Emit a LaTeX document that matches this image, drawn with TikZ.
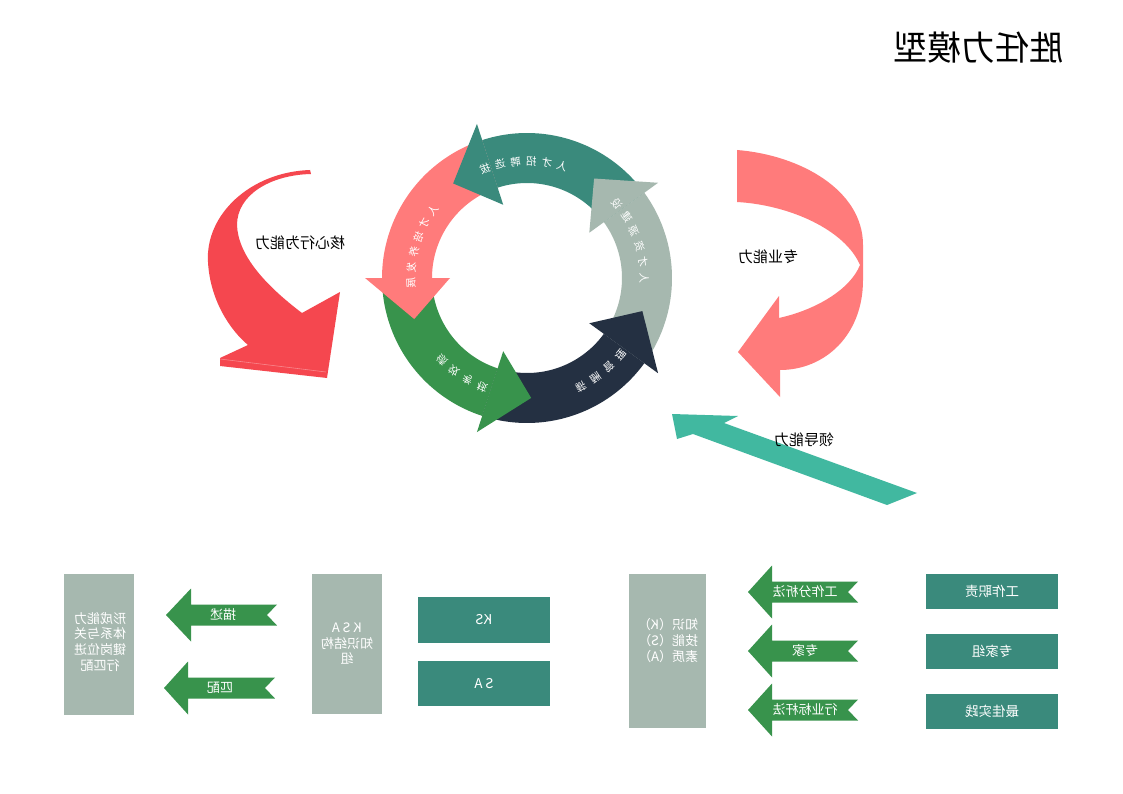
\documentclass[tikz,border=0pt]{standalone}
\usepackage{fontspec}
\usepackage{graphicx}
\setmainfont{Noto Sans CJK SC}
\newcommand\mir[1]{\reflectbox{#1}}
\definecolor{cteal}{HTML}{3A8A7C}
\definecolor{cgray}{HTML}{A6B8AF}
\definecolor{cnavy}{HTML}{243042}
\definecolor{cgreen}{HTML}{38934C}
\definecolor{csalmon}{HTML}{FF7B7B}
\definecolor{cred}{HTML}{F5474F}
\definecolor{cmint}{HTML}{41B8A0}
\newcommand\garrow[4]{% tip x, center y, head x, tail x
  \fill[cgreen] (#1,#2) -- (#3,#2-26.5) -- (#3,#2-10.5) -- (#4,#2-10.5) -- (#4-10,#2) -- (#4,#2+10.5) -- (#3,#2+10.5) -- (#3,#2+26.5) -- cycle;}
\begin{document}
\begin{tikzpicture}[x=1pt,y=-1pt,
  ringtxt/.style={text=white,font=\fontsize{10.5}{11}\selectfont,inner sep=0pt},
  lbl/.style={text=black,font=\fontsize{15}{17}\selectfont,inner sep=0pt},
  tbox/.style={fill=cteal,text=white,inner sep=0pt,font=\fontsize{13.5}{15}\selectfont},
  gbox/.style={fill=cgray,inner sep=0pt},
  wtxt/.style={text=white,inner sep=0pt,font=\fontsize{13}{15.5}\selectfont,align=center},
  atxt/.style={text=white,inner sep=0pt,font=\fontsize{13}{15}\selectfont}]
\useasboundingbox (0,0) rectangle (1123,794);
\fill[white] (0,0) rectangle (1123,794);

% title
\node[inner sep=0pt,font=\fontsize{34}{36}\selectfont] (title) at (978,48) {\mir{胜任力模型}};

% ring
\begin{scope}[shift={(527,278)}]
  \fill[csalmon] plot[domain=180:252,samples=40] (\x:145) -- plot[domain=252:180,samples=40] (\x:95) -- cycle;
  \fill[cteal] plot[domain=252:324,samples=40] (\x:145) -- plot[domain=324:252,samples=40] (\x:95) -- cycle;
  \fill[cgray] plot[domain=324:396,samples=40] (\x:145) -- plot[domain=396:324,samples=40] (\x:95) -- cycle;
  \fill[cnavy] plot[domain=36:108,samples=40] (\x:145) -- plot[domain=108:36,samples=40] (\x:95) -- cycle;
  \fill[cgreen] plot[domain=108:180,samples=40] (\x:145) -- plot[domain=180:108,samples=40] (\x:95) -- cycle;
  \fill[csalmon] (180:77) -- (180:162) -- (160:120) -- cycle;
  \fill[cteal] (252:77) -- (252:162) -- (232:120) -- cycle;
  \fill[cgray] (324:77) -- (324:162) -- (304:120) -- cycle;
  \fill[cnavy] (36:77) -- (36:162) -- (16:120) -- cycle;
  \fill[cgreen] (108:77) -- (108:162) -- (88:120) -- cycle;
  \foreach \ch [count=\i] in {人,才,招,聘,选,拔} {
    \pgfmathsetmacro\a{287.5-7.7*(\i-1)}
    \node[ringtxt,rotate=-\a-90] (ta\i) at (\a:117) {\mir{\ch}};}
  \foreach \ch [count=\i] in {人,才,资,源,建,设} {
    \pgfmathsetmacro\a{0-7.9*(\i-1)}
    \node[ringtxt,rotate=-\a-90] (tb\i) at (\a:117) {\mir{\ch}};}
  \foreach \ch [count=\i] in {人,才,培,养,发,展} {
    \pgfmathsetmacro\a{215.9-7.66*(\i-1)}
    \node[ringtxt,rotate=-\a-90] (tc\i) at (\a:116) {\mir{\ch}};}
  \foreach \ch [count=\i] in {绩,效,考,核} {
    \pgfmathsetmacro\a{136-7.9*(\i-1)}
    \node[ringtxt,rotate=-\a-90] (td\i) at (\a:118) {\mir{\ch}};}
  \foreach \ch [count=\i] in {薪,酬,管,理} {
    \pgfmathsetmacro\a{63.6-8.07*(\i-1)}
    \node[ringtxt,rotate=-\a-90] (te\i) at (\a:121) {\mir{\ch}};}
\end{scope}

% left red curved arrow
\fill[cred] (310,170) .. controls (250,172) and (205,215) .. (208,262)
  .. controls (210,300) and (230,330) .. (248,345) -- (220,358) -- (220,366)
  -- (327,378) -- (340,292) -- (302,313)
  .. controls (265,285) and (238,255) .. (237,225)
  .. controls (237,195) and (270,175) .. (311,174) -- cycle;
\draw[white,opacity=0.35,line width=0.6pt] (220,359) -- (326,372);
\node[lbl] (core) at (300,243) {\mir{核心行为能力}};

% right pink curved arrow
\fill[csalmon] (737,150) .. controls (800,155) and (863,190) .. (863,245)
  -- (863,280) .. controls (863,335) and (825,370) .. (780,370)
  -- (780,397) -- (738,352) -- (779,296) -- (779,318)
  .. controls (815,310) and (850,290) .. (860,265)
  .. controls (845,230) and (790,205) .. (737,202) -- cycle;
\node[lbl] (prof) at (768,257) {\mir{专业能力}};

% mint straight arrow
\fill[cmint] (672,414) -- (738,416) -- (724,423) -- (917,493) -- (887,505) -- (693,434) -- (677,439) -- cycle;
\node[lbl] (lead) at (804,440) {\mir{领导能力}};

% bottom right column
\node[tbox,minimum width=132pt,minimum height=35pt] (r1) at (992,591.5) {\mir{工作职责}};
\node[tbox,minimum width=132pt,minimum height=35pt] (r2) at (992,651.5) {\mir{专家组}};
\node[tbox,minimum width=132pt,minimum height=35pt] (r3) at (992,711.5) {\mir{最佳实践}};

\garrow{748}{592}{772}{858}
\garrow{748}{651}{772}{858}
\garrow{748}{710}{772}{858}
\node[atxt] (a1) at (805,592) {\mir{工作分析法}};
\node[atxt] (a2) at (805,651) {\mir{专家}};
\node[atxt] (a3) at (805,710) {\mir{行业标杆法}};

\node[gbox,minimum width=77pt,minimum height=154pt] (g1) at (667.5,651) {};
\node[wtxt] (g1t) at (668,642) {\mir{\begin{tabular}{@{}l@{}}知识（K）\\技能（S）\\素质（A）\end{tabular}}};

% bottom middle
\node[tbox,minimum width=132pt,minimum height=46pt] (m1) at (484,620) {\mir{KS}};
\node[tbox,minimum width=132pt,minimum height=45pt] (m2) at (484,683.5) {\mir{S A}};
\node[gbox,minimum width=70pt,minimum height=140pt] (g2) at (347,644) {};
\node[wtxt] (g2t) at (347,645) {\mir{\begin{tabular}{@{}c@{}}K S A\\知识结构\\组\end{tabular}}};

% bottom left
\garrow{166}{615}{191}{277}
\garrow{164}{688}{188}{275}
\node[atxt] (l1) at (223,615) {\mir{描述}};
\node[atxt] (l2) at (220,688) {\mir{匹配}};
\node[gbox,minimum width=70pt,minimum height=141pt] (g3) at (99,644.5) {};
\node[wtxt] (g3t) at (100,643.5) {\mir{\begin{tabular}{@{}c@{}}形成能力\\体系与关\\键岗位进\\行匹配\end{tabular}}};
\end{tikzpicture}
\end{document}
